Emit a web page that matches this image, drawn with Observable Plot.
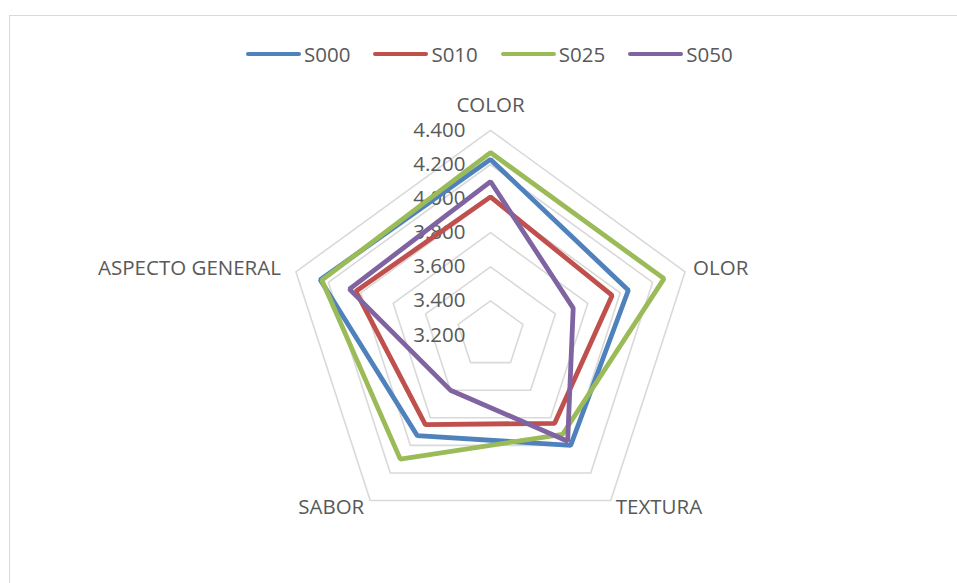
<!DOCTYPE html>
<html>
<head>
<meta charset="utf-8">
<script src="https://cdn.jsdelivr.net/npm/d3@7"></script>
<script src="https://cdn.jsdelivr.net/npm/@observablehq/plot@0.6"></script>
<style>
  html, body { margin: 0; padding: 0; background: #fff; }
  #wrap { position: relative; width: 957px; height: 583px; overflow: hidden; font-family: "Open Sans", sans-serif; }
  #frame { position: absolute; left: 9px; top: 15px; width: 960px; height: 600px; border-left: 1.5px solid #d9d9d9; border-top: 1.5px solid #d9d9d9; }
  #chart { position: absolute; left: 0; top: 0; }
  #legend { position: absolute; left: 246px; top: 40px; display: flex; align-items: center; font-size: 20.5px; color: #595959; }
  .item { display: flex; align-items: center; margin-right: 23px; }
  .sw { width: 55px; height: 4.8px; border-radius: 3px; margin-right: 3px; }
</style>
</head>
<body>
<div id="wrap">
  <div id="frame"></div>
  <div id="chart"></div>
  <div id="legend"></div>
</div>
<script>
// ---- data ----
const axes = ["COLOR", "OLOR", "TEXTURA", "SABOR", "ASPECTO GENERAL"];
const seriesNames = ["S000", "S010", "S025", "S050"];
const s000 = [4.23, 4.05, 4.00, 3.93, 4.25];
const s010 = [4.01, 3.95, 3.84, 3.85, 4.03];
const s025 = [4.27, 4.27, 3.92, 4.10, 4.24];
const s050 = [4.10, 3.71, 3.97, 3.60, 4.07];
const tickValues = [3.2, 3.4, 3.6, 3.8, 4.0, 4.2, 4.4];
const tickLabels = ["3.200", "3.400", "3.600", "3.800", "4.000", "4.200", "4.400"];
const colors = ["#4F81BD", "#C0504D", "#9BBB59", "#8064A2"];

const minV = 3.2, maxV = 4.4;
const seriesValues = [s000, s010, s025, s050];
const n = axes.length;
const ang = i => i * 2 * Math.PI / n;
const px = (i, v) => (v - minV) * Math.sin(ang(i));
const py = (i, v) => (v - minV) * Math.cos(ang(i));

// rows
const seriesRows = seriesNames.flatMap((s, k) =>
  seriesValues[k].map((v, i) => ({series: s, axis: axes[i], x: px(i, v), y: py(i, v)})));
const gridRows = tickValues.filter(t => t > minV).flatMap(t =>
  axes.map((a, i) => ({level: t, x: px(i, t), y: py(i, t)})));
const tickRows = tickValues.map((t, j) => ({label: tickLabels[j], x: 0, y: t - minV}));
const axisRows = axes.map((a, i) => ({label: a, i, x: px(i, maxV), y: py(i, maxV)}));

// layout
const W = 957, H = 583, cx = 490, cy = 334.5, unit = 170.5;
const xDomain = [-cx / unit, (W - cx) / unit];
const yDomain = [-(H - cy) / unit, cy / unit];
const FS = 20.5;

const labelOpts = [
  {textAnchor: "middle", dx: 0, dy: -25},
  {textAnchor: "start", dx: 8, dy: -3},
  {textAnchor: "start", dx: 5, dy: 7},
  {textAnchor: "end", dx: -6, dy: 7},
  {textAnchor: "end", dx: -15, dy: -3}
];

const plot = Plot.plot({
  width: W, height: H, margin: 0,
  x: {domain: xDomain, axis: null},
  y: {domain: yDomain, axis: null},
  color: {domain: seriesNames, range: colors},
  style: {fontFamily: "'Open Sans', sans-serif", background: "transparent"},
  marks: [
    Plot.line(gridRows, {x: "x", y: "y", z: "level", curve: "linear-closed", stroke: "#d9d9d9", strokeWidth: 1.6}),
    Plot.text(tickRows, {x: "x", y: "y", text: "label", textAnchor: "end", dx: -25, fontSize: FS, fill: "#595959"}),
    ...axisRows.map((r, i) => Plot.text([r], {x: "x", y: "y", text: "label", fontSize: FS, fill: "#595959", ...labelOpts[i]})),
    Plot.line(seriesRows, {x: "x", y: "y", z: "series", stroke: "series", curve: "linear-closed", strokeWidth: 4.8, strokeLinejoin: "miter"})
  ]
});
document.getElementById("chart").appendChild(plot);

// legend
const leg = document.getElementById("legend");
seriesNames.forEach((s, k) => {
  const it = document.createElement("div");
  it.className = "item";
  const sw = document.createElement("div");
  sw.className = "sw";
  sw.style.background = colors[k];
  const tx = document.createElement("span");
  tx.textContent = s;
  it.appendChild(sw); it.appendChild(tx);
  leg.appendChild(it);
});
</script>
</body>
</html>
